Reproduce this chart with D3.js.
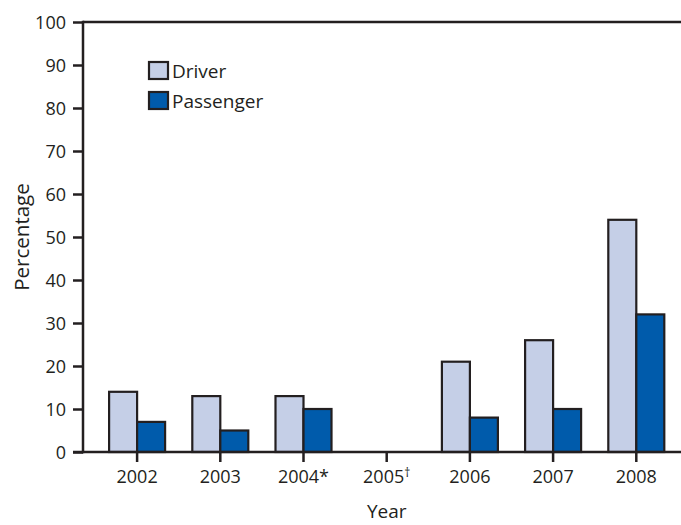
<!DOCTYPE html>
<html>
<head>
<meta charset="utf-8">
<script src="https://cdn.jsdelivr.net/npm/d3@7"></script>
<style>
  html, body { margin: 0; padding: 0; background: #fff; }
  svg { display: block; }
  text { font-family: "Open Sans", sans-serif; fill: #231f20; }
</style>
</head>
<body>
<svg id="chart" width="681" height="525"></svg>
<script>
const years = ["2002", "2003", "2004*", "2005\u2020", "2006", "2007", "2008"];
const driver = [14, 13, 13, null, 21, 26, 54];
const passenger = [7, 5, 10, null, 8, 10, 32];
const seriesNames = ["Driver", "Passenger"];
const seriesColors = ["#c5cfe7", "#005bab"];
const yTicks = [0, 10, 20, 30, 40, 50, 60, 70, 80, 90, 100];

const W = 681, H = 525;
const axisX = 83, plotTop = 22, plotBottom = 452;
const ink = "#231f20";

const svg = d3.select("#chart");

const y = d3.scaleLinear().domain([0, 100]).range([plotBottom, plotTop]);
const x = d3.scaleBand().domain(years).range([95.5, 677.9]).padding(0);
const xs = d3.scaleBand().domain(seriesNames).range([0, 56]);
const offset = (x.bandwidth() - 56) / 2;

const data = years.map((yr, i) => ({ year: yr, values: [driver[i], passenger[i]] }));

// bars
const groups = svg.append("g").selectAll("g").data(data).join("g")
  .attr("transform", d => `translate(${x(d.year) + offset},0)`);
groups.selectAll("rect")
  .data(d => d.values.map((v, j) => ({ v, s: seriesNames[j], j })).filter(o => o.v != null))
  .join("rect")
  .attr("x", o => xs(o.s))
  .attr("width", xs.bandwidth())
  .attr("y", o => y(o.v))
  .attr("height", o => y(0) - y(o.v))
  .attr("fill", o => seriesColors[o.j])
  .attr("stroke", ink)
  .attr("stroke-width", 2.2);

// y axis
const yAxis = svg.append("g")
  .attr("transform", `translate(${axisX},0)`)
  .call(d3.axisLeft(y).tickValues(yTicks).tickSize(10).tickPadding(7));
yAxis.select(".domain").remove();
yAxis.selectAll("line").attr("stroke", ink).attr("stroke-width", 2.5);
yAxis.selectAll("text").style("font-size", "18px").attr("fill", ink).attr("dy", "0.34em");

// x axis
const xAxis = svg.append("g")
  .attr("transform", `translate(0,${plotBottom})`)
  .call(d3.axisBottom(x).tickSize(10).tickPadding(7));
xAxis.select(".domain").remove();
xAxis.selectAll("line").attr("stroke", ink).attr("stroke-width", 2.5);
xAxis.selectAll("text").style("font-size", "18px").attr("fill", ink).attr("dy", "0.75em")
  .each(function(d) {
    const t = d3.select(this);
    if (d.endsWith("\u2020")) {
      t.text(null);
      t.append("tspan").text(d.slice(0, -1));
      t.append("tspan").attr("dy", "-0.45em").style("font-size", "12px").text("\u2020");
    }
  });

// frame lines
svg.append("line").attr("x1", axisX).attr("x2", axisX).attr("y1", plotTop - 1.25).attr("y2", plotBottom + 1.25)
  .attr("stroke", ink).attr("stroke-width", 2.5);
svg.append("line").attr("x1", axisX).attr("x2", W).attr("y1", plotTop).attr("y2", plotTop)
  .attr("stroke", ink).attr("stroke-width", 2.5);
svg.append("line").attr("x1", axisX - 10).attr("x2", W).attr("y1", plotBottom).attr("y2", plotBottom)
  .attr("stroke", ink).attr("stroke-width", 2.5);

// axis titles
svg.append("text").attr("x", x("2005\u2020") + x.bandwidth() / 2).attr("y", 518)
  .attr("text-anchor", "middle").style("font-size", "19px").text("Year");
svg.append("text").attr("transform", "translate(29,237) rotate(-90)")
  .attr("text-anchor", "middle").style("font-size", "20.5px").text("Percentage");

// legend
const legend = svg.append("g").attr("transform", "translate(149,62)");
seriesNames.forEach((name, i) => {
  const g = legend.append("g").attr("transform", `translate(0,${i * 30})`);
  g.append("rect").attr("width", 19).attr("height", 17)
    .attr("fill", seriesColors[i]).attr("stroke", ink).attr("stroke-width", 2.2);
  g.append("text").attr("x", 23).attr("y", 15.5).style("font-size", "19px").text(name);
});
</script>
</body>
</html>
